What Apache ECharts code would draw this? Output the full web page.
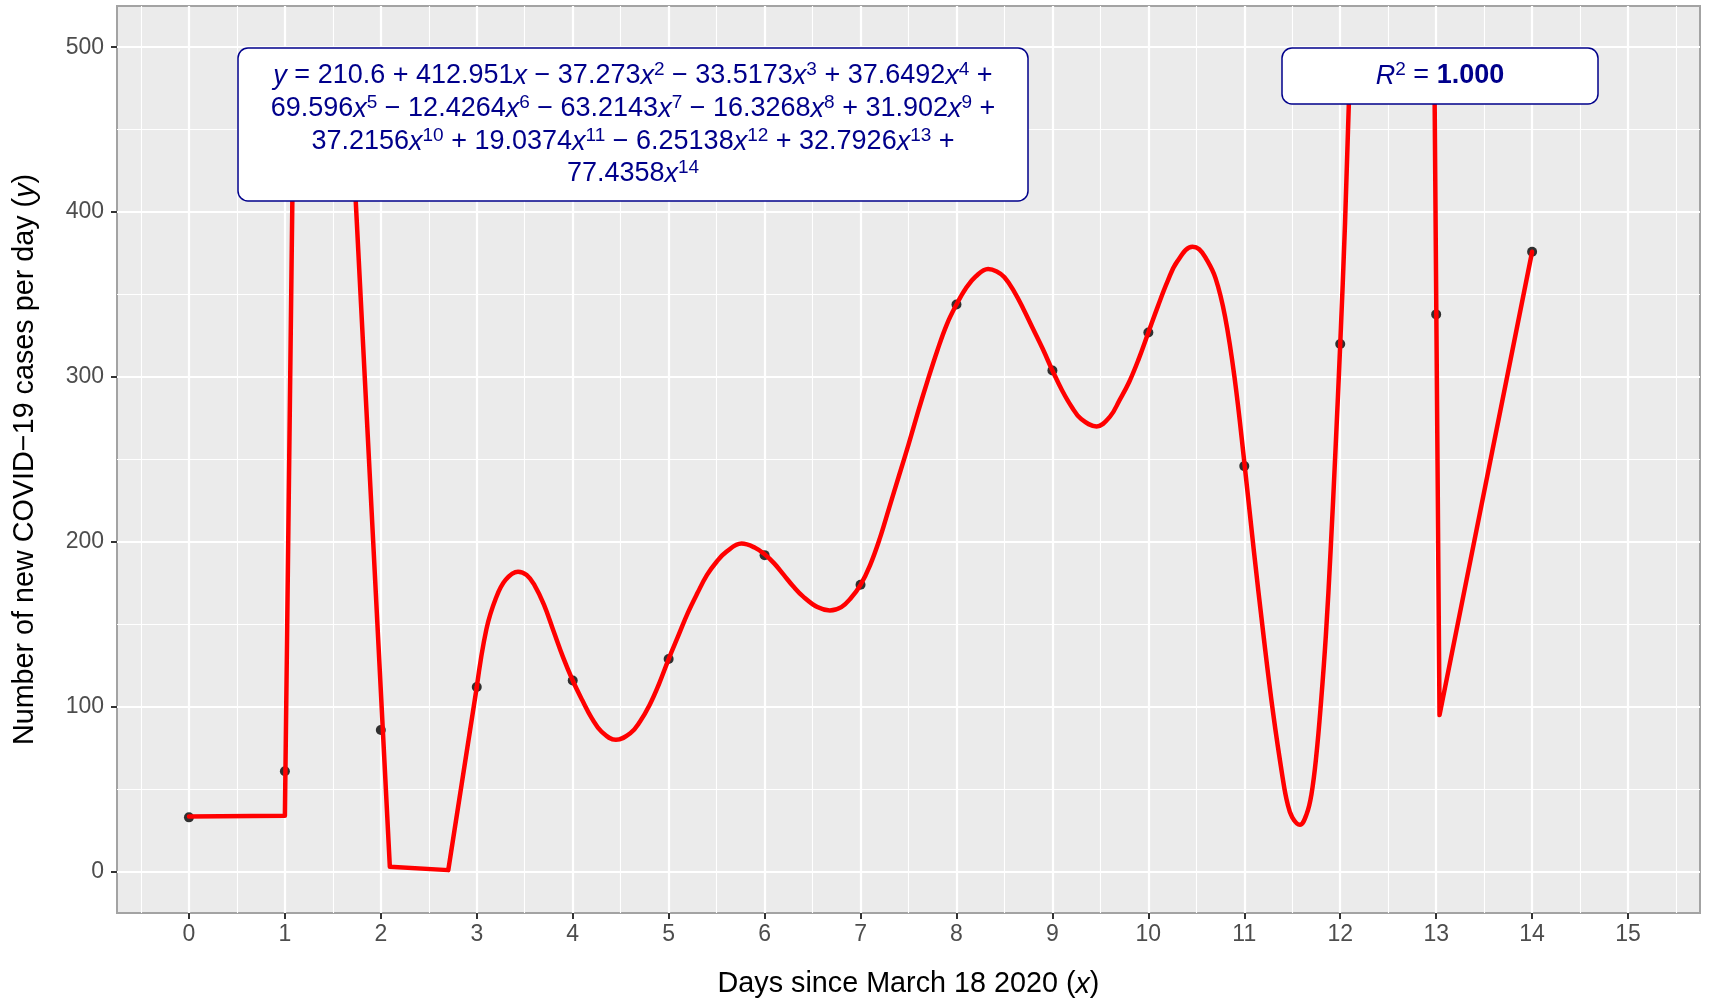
<!DOCTYPE html>
<html>
<head>
<meta charset="utf-8">
<title>New COVID-19 cases per day - polynomial fit</title>
<script src="https://cdn.jsdelivr.net/npm/echarts@6.0.0/dist/echarts.min.js"></script>
<style>
    html, body { margin: 0; padding: 0; background: #fff; }
    #main { width: 1712px; height: 1002px; }
</style>
</head>
<body>
<div id="main"></div>
<script>
// tick labels
var dayTicks = [0, 1, 2, 3, 4, 5, 6, 7, 8, 9, 10, 11, 12, 13, 14, 15];
var caseTicks = [0, 100, 200, 300, 400, 500];

// observed points
var days = [0, 1, 2, 3, 4, 5, 6, 7, 8, 9, 10, 11, 12, 13, 14];
var cases = [33, 61, 86, 112, 116, 129, 192, 174, 344, 304, 327, 246, 320, 338, 376];

// fitted curve
// straight runs are where the fit leaves the plotted window
var fitRunInX = [0, 1.0, 1.095, 1.665, 2.094, 2.703, 3.0];
var fitRunInY = [33.5, 34, 490, 490, 3, 1, 112];

// peaks and troughs are kept as their own points so the smoothing stays round
var fitWaveX = [3.0, 3.1, 3.2, 3.3, 3.43, 3.52, 3.6, 3.7, 3.8, 3.9,
    4.0, 4.1, 4.2, 4.3, 4.45, 4.6, 4.7, 4.8, 4.9,
    5.0, 5.1, 5.2, 5.3, 5.4, 5.5, 5.6, 5.76, 5.9,
    6.0, 6.1, 6.2, 6.3, 6.4, 6.55, 6.68, 6.8, 6.9,
    7.0, 7.1, 7.2, 7.3, 7.4, 7.5, 7.6, 7.7, 7.8, 7.9,
    8.0, 8.1, 8.2, 8.33, 8.42, 8.5, 8.6, 8.7, 8.8, 8.9,
    9.0, 9.1, 9.2, 9.3, 9.46, 9.6, 9.7, 9.8, 9.9,
    10.0, 10.1, 10.2, 10.3, 10.46, 10.53, 10.6, 10.7, 10.8, 10.9,
    11.0, 11.1, 11.2, 11.3, 11.4, 11.45, 11.5, 11.58, 11.65,
    11.7, 11.75, 11.8, 11.85, 11.9, 11.95, 12.0, 12.05, 12.09, 12.11];
var fitWaveY = [112, 147, 166, 177, 182, 180, 174, 162, 146, 130,
    116, 104, 93, 85, 80, 84, 91, 101, 114,
    129, 143, 157, 169, 180, 188, 194, 199, 196.5,
    192.5, 187, 180, 173, 167, 160.5, 158.5, 160.5, 166,
    174, 186, 202, 221, 240, 259, 279, 298, 316, 332,
    344, 354, 361, 365.5, 364, 360.5, 352, 341, 329, 317,
    304, 292, 282, 274.5, 270, 276, 286, 297, 311,
    327, 343, 358, 370, 379, 377.5, 372, 360, 336.5, 299,
    248.5, 194.5, 143.5, 96.5, 57, 41.5, 33, 28.5, 35,
    47, 70, 103, 143, 195, 255, 320, 393, 466, 490];

var fitRunOutX = [12.11, 12.981, 13.035, 14.0];
var fitRunOutY = [490, 490, 95, 376];

// polynomial label
var coefs = [210.6, 412.951, -37.273, -33.5173, 37.6492, 69.596, -12.4264, -63.2143,
    -16.3268, 31.902, 37.2156, 19.0374, -6.25138, 32.7926, 77.4358];
var lineStarts = [5, 10, 14];
var rSquared = '1.000';

var FONT = "'Liberation Sans', Arial, Helvetica, sans-serif";
var NAVY = '#00008B';

function pairs(xs, ys) {
    return xs.map(function (x, i) { return [x, ys[i]]; });
}

function equationLines() {
    var lines = [];
    var cur = '';
    coefs.forEach(function (c, i) {
        var term = '{n|' + String(Math.abs(c)) + '}' +
            (i > 0 ? '{i|x}' : '') + (i > 1 ? '{s|' + i + '}' : '');
        var sign = c < 0 ? '−' : '+';
        if (i === 0) {
            cur = '{i|y}{n| = }' + term;
        } else if (lineStarts.indexOf(i) >= 0) {
            lines.push(cur + '{n| ' + sign + '}');
            cur = term;
        } else {
            cur += '{n| ' + sign + ' }' + term;
        }
    });
    lines.push(cur);
    return lines;
}

window.onload = function () {
    showChart();
};

function showChart() {
    var myChart = echarts.init(document.getElementById('main'));

    var eqRich = {
        n: {fontSize: 27, fontFamily: FONT, fill: NAVY, lineHeight: 31},
        i: {fontSize: 27, fontFamily: FONT, fontStyle: 'italic', fill: NAVY, lineHeight: 31},
        b: {fontSize: 27, fontFamily: FONT, fontWeight: 'bold', fill: NAVY, lineHeight: 31},
        s: {fontSize: 19, fontFamily: FONT, fill: NAVY, lineHeight: 17, verticalAlign: 'top'}
    };
    var titleRich = {
        n: {fontSize: 28.75, fontFamily: FONT, color: '#000'},
        i: {fontSize: 28.75, fontFamily: FONT, fontStyle: 'italic', color: '#000'}
    };
    var fitLine = {color: '#FF0000', width: 4.5, join: 'round', cap: 'round'};

    var eqY = [76, 109, 142, 174];
    var graphics = [
        {type: 'rect', z: 100, shape: {x: 238, y: 48, width: 790, height: 153, r: 10},
            style: {fill: '#fff', stroke: NAVY, lineWidth: 1.5}},
        {type: 'rect', z: 100, shape: {x: 1282, y: 48, width: 316, height: 56, r: 10},
            style: {fill: '#fff', stroke: NAVY, lineWidth: 1.5}},
        {type: 'text', z: 101, x: 1440, y: 76,
            style: {text: '{i|R}{s|2}{n| = }{b|' + rSquared + '}', rich: eqRich,
                align: 'center', verticalAlign: 'middle', fill: NAVY, fontSize: 27, fontFamily: FONT}}
    ];
    equationLines().forEach(function (t, k) {
        graphics.push({type: 'text', z: 101, x: 633, y: eqY[k],
            style: {text: t, rich: eqRich, align: 'center', verticalAlign: 'middle',
                fill: NAVY, fontSize: 27, fontFamily: FONT}});
    });

    var option = {
        animation: false,
        backgroundColor: '#fff',
        grid: {
            left: 117, right: 12, top: 6, bottom: 89,
            show: true,
            backgroundColor: '#EBEBEB',
            borderColor: '#A3A3A3',
            borderWidth: 2,
            outerBoundsMode: 'none'
        },
        xAxis: {
            type: 'value',
            min: -0.75,
            max: 15.75,
            minInterval: 1,
            maxInterval: 1,
            name: '{n|Days since March 18 2020 (}{i|x}{n|)}',
            nameLocation: 'middle',
            nameGap: 57,
            nameTextStyle: {rich: titleRich, fontSize: 28.75, fontFamily: FONT, color: '#000'},
            axisLine: {show: false, onZero: false},
            axisTick: {show: true, length: 6, customValues: dayTicks, lineStyle: {color: '#333', width: 2}},
            axisLabel: {customValues: dayTicks, margin: 10, color: '#4D4D4D', fontSize: 23, fontFamily: FONT},
            splitLine: {show: true, lineStyle: {color: '#fff', width: 2.2}},
            minorTick: {show: false, splitNumber: 2},
            minorSplitLine: {show: true, lineStyle: {color: '#fff', width: 1.1}}
        },
        yAxis: {
            type: 'value',
            min: -25,
            max: 525,
            minInterval: 100,
            maxInterval: 100,
            name: '{n|Number of new COVID−19 cases per day (}{i|y}{n|)}',
            nameLocation: 'middle',
            nameGap: 77,
            nameTextStyle: {rich: titleRich, fontSize: 28.75, fontFamily: FONT, color: '#000'},
            axisLine: {show: false, onZero: false},
            axisTick: {show: true, length: 6, customValues: caseTicks, lineStyle: {color: '#333', width: 2}},
            axisLabel: {customValues: caseTicks, margin: 13, color: '#4D4D4D', fontSize: 23, fontFamily: FONT},
            splitLine: {show: true, lineStyle: {color: '#fff', width: 2.2}},
            minorTick: {show: false, splitNumber: 2},
            minorSplitLine: {show: true, lineStyle: {color: '#fff', width: 1.1}}
        },
        series: [
            {
                type: 'scatter',
                data: pairs(days, cases),
                symbol: 'circle',
                symbolSize: 10,
                itemStyle: {color: '#000'},
                z: 2
            },
            {
                type: 'line',
                data: pairs(fitRunInX, fitRunInY),
                symbol: 'none',
                lineStyle: fitLine,
                z: 3
            },
            {
                type: 'line',
                data: pairs(fitWaveX, fitWaveY),
                symbol: 'none',
                smooth: 0.4,
                lineStyle: fitLine,
                z: 3
            },
            {
                type: 'line',
                data: pairs(fitRunOutX, fitRunOutY),
                symbol: 'none',
                lineStyle: fitLine,
                z: 3
            }
        ],
        graphic: {elements: graphics}
    };
    myChart.setOption(option);
}
</script>
</body>
</html>
